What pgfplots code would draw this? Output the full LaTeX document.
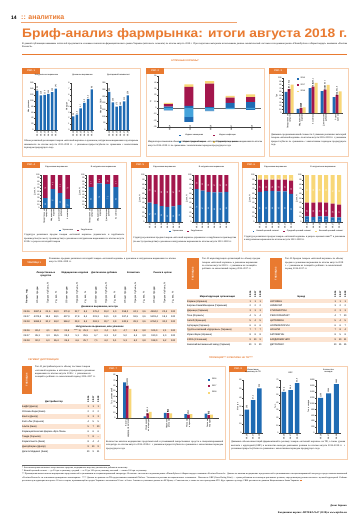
\documentclass[border=0pt]{standalone}
\PassOptionsToPackage{table}{xcolor}
\usepackage{fontspec}
\setmainfont{Liberation Serif}
\setsansfont{Liberation Sans}
\usepackage{graphicx}
\usepackage{array}
\usepackage{pgfplots}
\usepackage{pgfplotstable}
\pgfplotsset{compat=1.18}
\definecolor{orng}{HTML}{E97A30}
\definecolor{lorng}{HTML}{F7CFB0}
\definecolor{shade}{HTML}{FCE4D2}
\definecolor{cblue}{HTML}{1F6BB3}
\definecolor{ccrim}{HTML}{A3164C}
\definecolor{cyel}{HTML}{F8D777}
\definecolor{cteal}{HTML}{45A3DB}
\newcommand\tx{\fontsize{2.4}{3.1}\selectfont}
\newcommand\tk{\sffamily\fontsize{2}{2.3}\selectfont}
\newcommand\tb{\sffamily\bfseries\fontsize{2.4}{2.8}\selectfont}
\newcommand\panel[5]{%
 \draw[lorng, line width=0.7pt] (#1,#2) rectangle (#3,#4);
 \node[fill=orng, text=white, font=\tb, anchor=north west, inner sep=0pt, minimum width=18pt, minimum height=5.5pt] at (#1,#2) {#5};}
\pgfplotsset{
  mini/.style={scale only axis, anchor=south west, axis lines*=left,
    axis line style={black!75, line width=0.2pt},
    every tick/.style={black!75, line width=0.2pt},
    major tick length=0.8pt, tick align=outside,
    ticklabel style={font=\tk, inner sep=0.4pt},
    label style={font=\tk, inner sep=0pt},
    title style={font=\tk, inner sep=0.6pt, align=center},
    /pgf/number format/assume math mode=true,
    /pgf/number format/use comma,
    /pgf/number format/1000 sep={},
    ymin=0, clip=false,
    x tick label style={rotate=90, anchor=east, align=right},
    legend style={draw=none, fill=none, font=\tk, inner sep=0.3pt, row sep=-0.5pt,
      /tikz/every even column/.append style={column sep=2pt}},
  },
  nlab/.style={nodes near coords, every node near coord/.style={rotate=90, anchor=west, font=\tk, inner sep=0.4pt}},
  wlab/.style={nodes near coords, point meta=explicit, every node near coord/.style={rotate=90, anchor=east, font=\tk, text=white, inner sep=0.5pt}},
  sq/.style={legend image code/.code={\fill[##1] (0pt,-0.9pt) rectangle (1.8pt,0.9pt);}},
}
\pgfplotstableread{
x ua fo
0 30 70
1 57 43
2 45 55
3 27 73
}\figfourA
\pgfplotstableread{
x ua fo
0 63 37
1 75 25
2 72 28
3 63 37
}\figfourB
\pgfplotstableread{
x ua fo
0 41 59
1 38 62
2 34 66
3 32 68
4 33 67
5 36 64
}\figfiveA
\pgfplotstableread{
x ua fo
0 70 30
1 67 33
2 64 36
3 63 37
4 63 37
5 64 36
}\figfiveB
\pgfplotstableread{
x lo mid hi
0 64 26 10
1 66 24 10
2 66 24 10
3 65 25 10
4 65 25 10
5 60 28 12
}\figsixA
\pgfplotstableread{
x lo mid hi
0 12 29 59
1 11 30 59
2 12 30 58
3 12 29 59
4 10 29 61
5 10 27 63
}\figsixB
\pgfplotstableread{
x a b c
0 60.2 68.4 81.3
1 12.1 13.6 15.9
2 70.8 75.2 86.1
3 62.3 66.9 80.7
4 45.1 51.6 61.8
}\figthree
\pgfplotstableread{
x a b c
0 66.1 60.4 54.2
1 3.2 8.7 11.3
2 9.4 9.1 8.8
3 7.2 6.1 7.0
4 8.0 5.3 6.2
}\figseven
\begin{document}
\begin{tikzpicture}[x=1pt,y=-1pt]
\path[use as bounding box, fill=white] (0,0) rectangle (360,530);
% header
\node[anchor=west, font=\sffamily\bfseries\fontsize{5}{6}\selectfont, inner sep=0pt] at (11,17.5) {14};
\node[anchor=west, font=\sffamily\bfseries\fontsize{7}{8}\selectfont, text=orng, inner sep=0pt] at (21,17.2) {:: аналитика};
\draw[orng!70, line width=0.4pt] (21,22.5) -- (237,22.5);
\node[anchor=north west, inner sep=0pt, text=orng] at (22,28.5) {\resizebox*{325pt}{11.5pt}{\sffamily\bfseries Бриф-анализ фармрынка: итоги августа 2018 г.}};
\node[anchor=north west, inner sep=0pt, font=\tx, text width=325pt, align=justify] at (22,42.5) {В данной публикации вниманию читателей предлагаются основные показатели фармацевтического рынка Украины (аптечного сегмента) по итогам августа 2018 г. При подготовке материала использованы данные аналитической системы исследования рынка «PharmXplorer»/«Фармстандарт» компании «Proxima Research».};
\draw[orng, line width=0.4pt] (22,54) -- (347,54);
\node[font=\tb, text=orng] at (185,60.5) {АПТЕЧНЫЕ КОРЗИНЫ*};
% ===== Fig 1
\panel{22}{68}{140}{156}{РИС. 1}
\begin{axis}[mini, at={(35pt,-130pt)}, width=23pt, height=47pt, ymax=160, ytick={0,20,...,160}, xmin=-0.6, xmax=5.6, xtick={0,...,5}, xticklabels={08.13,08.14,08.15,08.16,08.17,08.18}, title={Натуральное выражение}, ylabel={Млн упаковок}, ybar, bar width=2.4pt, nlab]
\addplot[fill=cblue, draw=none] coordinates {(0,134) (1,118) (2,120) (3,123) (4,129) (5,141)};
\end{axis}
\begin{axis}[mini, at={(71pt,-130pt)}, width=23pt, height=47pt, ymax=8, ytick={0,1,...,8}, xmin=-0.6, xmax=5.6, xtick={0,...,5}, xticklabels={08.13,08.14,08.15,08.16,08.17,08.18}, title={Денежное выражение}, ylabel={Млрд грн}, ybar, bar width=2.4pt, nlab]
\addplot[fill=cblue, draw=none] coordinates {(0,2.3) (1,2.6) (2,3.7) (3,4.6) (4,5.3) (5,6.9)};
\end{axis}
\begin{axis}[mini, at={(107pt,-130pt)}, width=23pt, height=47pt, ymax=350, ytick={0,50,...,350}, xmin=-0.6, xmax=5.6, xtick={0,...,5}, xticklabels={08.13,08.14,08.15,08.16,08.17,08.18}, title={Долларовый эквивалент}, ylabel={Млн долл. США}, ybar, bar width=2.4pt, nlab]
\addplot[fill=cblue, draw=none] coordinates {(0,283) (1,205) (2,175) (3,180) (4,213) (5,258)};
\end{axis}
\node[anchor=north west, inner sep=0pt, font=\tx, text width=114pt, align=justify] at (24,140) {Объем розничной реализации товаров «аптечной корзины» в денежном, натуральном выражении и долларовом эквиваленте по итогам августа 2013–2018 гг. с указанием прироста/убыли по сравнению с аналогичным периодом предыдущего года};
% ===== Fig 2
\panel{146}{68}{264}{156}{РИС. 2}
\begin{axis}[mini, at={(158pt,-127pt)}, width=103pt, height=51pt, ymin=-30, ymax=50, ytick={-30,-20,...,50}, xmin=-0.5, xmax=4.5, xtick={0,...,4}, xticklabels={08.14,08.15,08.16,08.17,08.18}, x tick label style={rotate=0, anchor=north}, ylabel={\%}, ybar stacked, bar width=9pt, extra y ticks={0}, extra y tick labels={}, extra y tick style={grid=major, grid style={black!60, line width=0.2pt}}, legend columns=2, legend style={at={(0.5,-0.09)}, anchor=north, /tikz/every even column/.append style={column sep=6pt}}]
\addplot[sq, fill=cblue, draw=none] coordinates {(0,2) (1,3) (2,1) (3,8) (4,9)};
\addlegendentry{Индекс замещения}
\addplot[sq, fill=ccrim, draw=none] coordinates {(0,4) (1,30) (2,37) (3,8) (4,8)};
\addlegendentry{Индекс инфляции}
\addlegendimage{sq, fill=cteal, draw=none}
\addlegendentry{Индекс товарной массы}
\addplot[sq, fill=cyel, draw=none] coordinates {(0,2) (1,4) (2,4) (3,3) (4,4)};
\addlegendentry{Прирост/убыль рынка}
\end{axis}
\begin{axis}[mini, hide axis, at={(158pt,-127pt)}, width=103pt, height=51pt, ymin=-30, ymax=50, xmin=-0.5, xmax=4.5, ybar stacked, bar width=9pt]
\addplot[fill=cteal, draw=none] coordinates {(0,-3) (1,-14) (2,-4) (3,-2) (4,-2)};
\addplot[fill=cblue, draw=none] coordinates {(0,-1) (1,-8) (2,-1) (3,0) (4,-1)};
\end{axis}
\node[anchor=north west, inner sep=0pt, font=\tx, text width=114pt, align=justify] at (148,141) {Индикаторы изменения объема аптечных продаж товаров «аптечной корзины» в денежном выражении по итогам августа 2014–2018 гг. по сравнению с аналогичным периодом предыдущего года};
% ===== Fig 3
\panel{269}{68}{348}{156}{РИС. 3}
\begin{axis}[mini, at={(283pt,-113pt)}, width=60pt, height=35pt, ymax=100, ytick={0,10,...,100}, xmin=-0.5, xmax=4.5, xtick={0,...,4}, xticklabels={Лекарственные\\средства, Медицинские\\изделия, Косметика, Диетические\\добавки, Рынок\\в целом}, ylabel={Грн}, ybar=0pt, bar width=3pt, nlab, legend style={at={(0.22,1.09)}, anchor=north west}]
\addplot[sq, fill=cblue, draw=none] table[x=x, y=a] {\figthree};
\addlegendentry{2016}
\addplot[sq, fill=ccrim, draw=none] table[x=x, y=b] {\figthree};
\addlegendentry{2017}
\addplot[sq, fill=cyel, draw=none] table[x=x, y=c] {\figthree};
\addlegendentry{2018}
\end{axis}
\node[anchor=north west, inner sep=0pt, font=\tx, text width=75pt, align=justify] at (271,134) {Динамика средневзвешенной стоимости 1 упаковки различных категорий товаров «аптечной корзины» по итогам августа 2016–2018 гг. с указанием прироста/убыли по сравнению с аналогичным периодом предыдущего года};
% ===== Fig 4
\panel{22}{162}{126}{251}{РИС. 4}
\begin{axis}[mini, at={(41pt,-208pt)}, width=31pt, height=33pt, ymax=100, ytick={0,10,...,100}, xmin=-0.6, xmax=3.6, xtick={0,...,3}, xticklabels={Лекарственные\\средства, Медицинские\\изделия, Диетические\\добавки, Косметика}, title={В денежном выражении}, ylabel={Доля, \%}, ybar stacked, bar width=4.5pt, wlab, legend columns=2, legend style={at={(1.15,-0.68)}, anchor=center}]
\addplot[sq, fill=cblue, draw=none] table[x=x, y=ua, meta=ua] {\figfourA};
\addlegendentry{Украинские}
\addplot[sq, fill=ccrim, draw=none] table[x=x, y=fo, meta=fo] {\figfourA};
\addlegendentry{Зарубежные}
\end{axis}
\begin{axis}[mini, at={(86pt,-208pt)}, width=35pt, height=33pt, ymax=100, ytick={0,10,...,100}, xmin=-0.6, xmax=3.6, xtick={0,...,3}, xticklabels={Лекарственные\\средства, Медицинские\\изделия, Диетические\\добавки, Косметика}, title={В натуральном выражении}, ylabel={Доля, \%}, ybar stacked, bar width=5pt, wlab]
\addplot[fill=cblue, draw=none] table[x=x, y=ua, meta=ua] {\figfourB};
\addplot[fill=ccrim, draw=none] table[x=x, y=fo, meta=fo] {\figfourB};
\end{axis}
\node[anchor=north west, inner sep=0pt, font=\tx, text width=100pt, align=justify] at (24,234) {Структура розничных продаж товаров «аптечной корзины» украинского и зарубежного производства (по месту производства) в денежном и натуральном выражении по итогам августа 2018 г. в разрезе категорий товаров};
% ===== Fig 5
\panel{131}{162}{238}{251}{РИС. 5}
\begin{axis}[mini, at={(146pt,-222pt)}, width=37pt, height=47pt, ymax=100, ytick={0,10,...,100}, xmin=-0.6, xmax=5.6, xtick={0,...,5}, xticklabels={08.13,08.14,08.15,08.16,08.17,08.18}, title={В денежном выражении}, ylabel={Доля, \%}, ybar stacked, bar width=4pt, wlab, legend columns=2, legend style={at={(1.1,-0.2)}, anchor=center}]
\addplot[sq, fill=cblue, draw=none] table[x=x, y=ua, meta=ua] {\figfiveA};
\addlegendentry{Украинские}
\addplot[sq, fill=ccrim, draw=none] table[x=x, y=fo, meta=fo] {\figfiveA};
\addlegendentry{Зарубежные}
\end{axis}
\begin{axis}[mini, at={(193pt,-222pt)}, width=37pt, height=47pt, ymax=100, ytick={0,10,...,100}, xmin=-0.6, xmax=5.6, xtick={0,...,5}, xticklabels={08.13,08.14,08.15,08.16,08.17,08.18}, title={В натуральном выражении}, ylabel={Доля, \%}, ybar stacked, bar width=4pt, wlab]
\addplot[fill=cblue, draw=none] table[x=x, y=ua, meta=ua] {\figfiveB};
\addplot[fill=ccrim, draw=none] table[x=x, y=fo, meta=fo] {\figfiveB};
\end{axis}
\node[anchor=north west, inner sep=0pt, font=\tx, text width=103pt, align=justify] at (133,237) {Структура розничных продаж товаров «аптечной корзины» украинского и зарубежного производства (по месту производства) в денежном и натуральном выражении по итогам августа 2013–2018 гг.};
% ===== Fig 6
\panel{242}{162}{347}{251}{РИС. 6}
\begin{axis}[mini, at={(256pt,-222pt)}, width=39pt, height=47pt, ymax=100, ytick={0,10,...,100}, xmin=-0.6, xmax=5.6, xtick={0,...,5}, xticklabels={08.13,08.14,08.15,08.16,08.17,08.18}, title={В денежном выражении}, ylabel={Доля, \%}, ybar stacked, bar width=4pt, wlab, legend columns=3, legend style={at={(1.1,-0.2)}, anchor=center}]
\addplot[sq, fill=cblue, draw=none] table[x=x, y=lo, meta=lo] {\figsixA};
\addlegendentry{Низкий ценовой сегмент}
\addplot[sq, fill=ccrim, draw=none] table[x=x, y=mid, meta=mid] {\figsixA};
\addlegendentry{Средний ценовой сегмент}
\addplot[sq, fill=cyel, draw=none] table[x=x, y=hi, meta=hi] {\figsixA};
\addlegendentry{Высокий ценовой сегмент}
\end{axis}
\begin{axis}[mini, at={(303pt,-222pt)}, width=40pt, height=47pt, ymax=100, ytick={0,10,...,100}, xmin=-0.6, xmax=5.6, xtick={0,...,5}, xticklabels={08.13,08.14,08.15,08.16,08.17,08.18}, title={В натуральном выражении}, ylabel={Доля, \%}, ybar stacked, bar width=4pt, wlab]
\addplot[fill=cblue, draw=none] table[x=x, y=lo, meta=lo] {\figsixB};
\addplot[fill=ccrim, draw=none] table[x=x, y=mid, meta=mid] {\figsixB};
\addplot[fill=cyel, draw=none] table[x=x, y=hi, meta=hi] {\figsixB};
\end{axis}
\node[anchor=north west, inner sep=0pt, font=\tx, text width=101pt, align=justify] at (244,236) {Структура розничных продаж товаров «аптечной корзины» в разрезе ценовых ниш** в денежном и натуральном выражении по итогам августа 2013–2018 гг.};
% ===== Table 1
\node[fill=orng, text=white, font=\tb, anchor=north west, inner sep=0pt, minimum width=24pt, minimum height=7pt] at (22,259) {ТАБЛИЦА 1};
\node[anchor=north west, inner sep=0pt, font=\tx, text width=128pt] at (49,258) {Розничные продажи различных категорий товаров «аптечной корзины» в денежном и натуральном выражении по итогам августа 2016–2018 гг.};
\node[anchor=north west, inner sep=0pt, font=\tx] at (22,270) {\sffamily\setlength{\tabcolsep}{0.2pt}\renewcommand{\arraystretch}{1.55}%
\begin{tabular}{@{}>{\centering\arraybackslash}p{9pt}*{5}{>{\centering\arraybackslash}p{12pt}>{\centering\arraybackslash}p{8pt}>{\centering\arraybackslash}p{8pt}}@{}}
 & \multicolumn{3}{>{\centering\arraybackslash}p{28.4pt}}{\bfseries Лекарственные средства} & \multicolumn{3}{>{\centering\arraybackslash}p{28.4pt}}{\bfseries Медицинские изделия} & \multicolumn{3}{>{\centering\arraybackslash}p{28.4pt}}{\bfseries Диетические добавки} & \multicolumn{3}{>{\centering\arraybackslash}p{28.4pt}}{\bfseries Косметика} & \multicolumn{3}{>{\centering\arraybackslash}p{28.4pt}}{\bfseries Рынок в целом}\\
\rotatebox{90}{\bfseries Август, год} &
\rotatebox{90}{\parbox{25pt}{\raggedright Объем продаж}} & \rotatebox{90}{\parbox{25pt}{\raggedright Прирост/ убыль, \%}} & \rotatebox{90}{\parbox{25pt}{\raggedright Уд. вес, \%}} &
\rotatebox{90}{\parbox{25pt}{\raggedright Объем продаж}} & \rotatebox{90}{\parbox{25pt}{\raggedright Прирост/ убыль, \%}} & \rotatebox{90}{\parbox{25pt}{\raggedright Уд. вес, \%}} &
\rotatebox{90}{\parbox{25pt}{\raggedright Объем продаж}} & \rotatebox{90}{\parbox{25pt}{\raggedright Прирост/ убыль, \%}} & \rotatebox{90}{\parbox{25pt}{\raggedright Уд. вес, \%}} &
\rotatebox{90}{\parbox{25pt}{\raggedright Объем продаж}} & \rotatebox{90}{\parbox{25pt}{\raggedright Прирост/ убыль, \%}} & \rotatebox{90}{\parbox{25pt}{\raggedright Уд. вес, \%}} &
\rotatebox{90}{\parbox{25pt}{\raggedright Объем продаж}} & \rotatebox{90}{\parbox{25pt}{\raggedright Прирост/ убыль, \%}} & \rotatebox{90}{\parbox{25pt}{\raggedright Уд. вес, \%}}\\
\multicolumn{16}{c}{\bfseries Денежное выражение, млн грн}\\
\rowcolor{shade} 08.16 & 3697,6 & 21,6 & 84,0 & 371,8 & 32,7 & 8,4 & 176,4 & 19,2 & 4,0 & 158,2 & 24,1 & 3,6 & 4404,0 & 22,4 & 100\\
08.17 & 4374,8 & 18,3 & 84,1 & 437,9 & 17,8 & 8,4 & 201,3 & 14,1 & 3,9 & 187,4 & 18,5 & 3,6 & 5201,4 & 18,1 & 100\\
\rowcolor{shade} 08.18 & 5694,3 & 30,2 & 84,2 & 566,2 & 29,3 & 8,4 & 263,1 & 30,7 & 3,9 & 240,5 & 28,3 & 3,6 & 6764,1 & 30,0 & 100\\
\multicolumn{16}{c}{\bfseries Натуральное выражение, млн упаковок}\\
\rowcolor{shade} 08.16 & 82,4 & 4,1 & 65,9 & 31,6 & $-$1,8 & 25,3 & 6,3 & 2,4 & 5,0 & 4,7 & 8,6 & 3,8 & 125,0 & 2,1 & 100\\
08.17 & 85,1 & 3,3 & 65,5 & 33,2 & 5,1 & 25,5 & 6,7 & 6,3 & 5,2 & 5,0 & 6,4 & 3,8 & 130,0 & 4,0 & 100\\
\rowcolor{shade} 08.18 & 90,2 & 6,0 & 65,4 & 35,4 & 6,6 & 25,7 & 7,1 & 6,0 & 5,1 & 5,3 & 6,0 & 3,8 & 138,0 & 6,2 & 100\\
\end{tabular}};
% ===== Table 2
\node[fill=orng, text=white, font=\tb, rotate=90, inner sep=0pt, minimum width=31pt, minimum height=12pt] at (193,273.5) {ТАБЛИЦА 2};
\node[anchor=north west, inner sep=0pt, font=\tx, text width=60pt] at (202,258) {Топ-10 маркетирующих организаций по объему продаж товаров «аптечной корзины» в денежном выражении по итогам августа 2018 г. с указанием их позиций в рейтинге за аналогичный период 2016–2017 гг.};
\node[anchor=north west, inner sep=0pt, font=\tx] at (187,291) {\sffamily\setlength{\tabcolsep}{0.5pt}\renewcommand{\arraystretch}{1.55}%
\begin{tabular}{@{}p{60pt}*{3}{>{\centering\arraybackslash}p{4pt}}@{}}
\multicolumn{1}{c}{\bfseries Маркетирующая организация} & \rotatebox{90}{\bfseries 08.16} & \rotatebox{90}{\bfseries 08.17} & \rotatebox{90}{\bfseries 08.18}\\
\rowcolor{shade} Фармак (Украина) & 1 & 1 & 1\\
Берлин-Хеми/Менарини (Германия) & 2 & 2 & 2\\
\rowcolor{shade} Дарница (Украина) & 3 & 3 & 3\\
Teva (Израиль) & 4 & 5 & 4\\
\rowcolor{shade} Sanofi (Франция) & 5 & 4 & 5\\
Артериум (Украина) & 6 & 6 & 6\\
\rowcolor{shade} Группа компаний «Здоровье» (Украина) & 7 & 7 & 7\\
Юрия-Фарм (Украина) & 8 & 8 & 8\\
\rowcolor{shade} KRKA (Словения) & 9 & 10 & 9\\
Киевский витаминный завод (Украина) & 10 & 9 & 10\\
\end{tabular}};
% ===== Table 3
\node[fill=orng, text=white, font=\tb, rotate=90, inner sep=0pt, minimum width=31pt, minimum height=12pt] at (276,273.5) {ТАБЛИЦА 3};
\node[anchor=north west, inner sep=0pt, font=\tx, text width=62pt] at (285,258) {Топ-10 брендов товаров «аптечной корзины» по объему продаж в денежном выражении по итогам августа 2018 г. с указанием их позиций в рейтинге за аналогичный период 2016–2017 гг.};
\node[anchor=north west, inner sep=0pt, font=\tx] at (270,291) {\sffamily\setlength{\tabcolsep}{0.5pt}\renewcommand{\arraystretch}{1.55}%
\begin{tabular}{@{}p{62pt}*{3}{>{\centering\arraybackslash}p{4pt}}@{}}
\multicolumn{1}{c}{\bfseries Бренд} & \rotatebox{90}{\bfseries 08.16} & \rotatebox{90}{\bfseries 08.17} & \rotatebox{90}{\bfseries 08.18}\\
\rowcolor{shade} НУРОФЕН & 1 & 1 & 1\\
НИМЕСИЛ & 3 & 2 & 2\\
\rowcolor{shade} СПАЗМАЛГОН & 2 & 3 & 3\\
РЕОСОРБИЛАКТ & 4 & 7 & 10\\
\rowcolor{shade} ЦИТРАМОН & 5 & 4 & 5\\
НОРМОФЛОРИН & 6 & 6 & 7\\
\rowcolor{shade} НО-ШПА & 7 & 8 & 4\\
АКТОВЕГИН & 8 & 5 & 8\\
\rowcolor{shade} КАРДИОМАГНИЛ & 9 & 10 & 11\\
ДЕТРАЛЕКС & 10 & 15 & 15\\
\end{tabular}};
% ===== section headings
\node[anchor=west, font=\tb, text=orng, inner sep=0pt] at (28,359.5) {СЕГМЕНТ ДИСТРИБУЦИИ};
\node[font=\tb, text=orng, inner sep=0pt] at (231,358) {ПРОМОЦИЯ*** И РЕКЛАМА НА ТВ****};
% ===== Table 4
\node[fill=orng, text=white, font=\tb, rotate=90, inner sep=0pt, minimum width=28pt, minimum height=10pt] at (27,379.5) {ТАБЛИЦА 4};
\node[anchor=north west, inner sep=0pt, font=\tx, text width=65pt] at (35,366) {Топ-10 дистрибьюторов по объему поставок товаров «аптечной корзины» в аптечные учреждения в денежном выражении по итогам августа 2018 г. с указанием их позиций в рейтинге за аналогичный период 2016–2017 гг.};
\node[anchor=north west, inner sep=0pt, font=\tx] at (22,396) {\sffamily\setlength{\tabcolsep}{0.5pt}\renewcommand{\arraystretch}{1.62}%
\begin{tabular}{@{}p{63pt}*{3}{>{\centering\arraybackslash}p{4pt}}@{}}
\multicolumn{1}{c}{\bfseries Дистрибьютор} & \rotatebox{90}{\bfseries 08.16} & \rotatebox{90}{\bfseries 08.17} & \rotatebox{90}{\bfseries 08.18}\\
\rowcolor{shade} БаДМ (Днепр) & 1 & 1 & 1\\
Оптима-Фарм (Киев) & 2 & 2 & 2\\
\rowcolor{shade} Вента (Днепр) & 3 & 3 & 3\\
Фито-Лек (Харьков) & 4 & 5 & 5\\
\rowcolor{shade} Альба (Киев) & 5 & 7 & 10\\
Фармацевтическая фирма «Фра Пана» & 6 & 6 & 6\\
\rowcolor{shade} Тамда (Харьков) & 7 & 8 & --\\
Фармпланета (Киев) & 8 & 4 & 4\\
\rowcolor{shade} ДнепрФарма (Днепр) & 9 & 10 & 9\\
Дельта Медикел (Киев) & 10 & 9 & 11\\
\end{tabular}};
% ===== Fig 7
\panel{104}{366}{225}{459}{РИС. 7}
\begin{axis}[mini, at={(117pt,-418pt)}, width=102pt, height=43pt, ymax=80, ytick={0,10,...,80}, xmin=-0.5, xmax=4.5, xtick={0,...,4}, xticklabels={Визиты\\медпредставителей, Упоминания\\в литературе, Наружная\\реклама, Реклама\\в прессе, Реклама\\на радио}, ylabel={Тыс. упоминаний}, ybar=0pt, bar width=2.7pt, nlab, legend style={at={(1.0,0.98)}, anchor=north east}]
\addplot[sq, fill=cblue, draw=none] table[x=x, y=a] {\figseven};
\addlegendentry{2016}
\addplot[sq, fill=ccrim, draw=none] table[x=x, y=b] {\figseven};
\addlegendentry{2017}
\addplot[sq, fill=cyel, draw=none] table[x=x, y=c] {\figseven};
\addlegendentry{2018}
\end{axis}
\node[anchor=north west, inner sep=0pt, font=\tx, text width=117pt, align=justify] at (106,441) {Количество визитов медицинских представителей и упоминаний лекарственных средств в специализированной литературе по итогам августа 2016–2018 гг. с указанием прироста/убыли по сравнению с аналогичным периодом предыдущего года};
% ===== Fig 8
\panel{229}{366}{347}{459}{РИС. 8}
\begin{axis}[mini, at={(243pt,-433pt)}, width=20pt, height=53pt, ymax=60, ytick={0,10,...,60}, xmin=-0.6, xmax=2.6, xtick={0,1,2}, xticklabels={08.16,08.17,08.18}, title={Инвестиции\\в рекламу на ТВ}, ylabel={Млн грн}, ybar, bar width=4.5pt, nlab]
\addplot[fill=cblue, draw=none] coordinates {(0,26.6) (1,37.2) (2,50.5)};
\end{axis}
\begin{axis}[mini, at={(280pt,-433pt)}, width=21pt, height=53pt, ymax=70, ytick={0,10,...,70}, xmin=-0.6, xmax=2.6, xtick={0,1,2}, xticklabels={08.16,08.17,08.18}, title={GRP}, ylabel={Тыс.}, ybar, bar width=4.5pt, nlab]
\addplot[fill=cblue, draw=none] coordinates {(0,54.4) (1,56.6) (2,65.9)};
\end{axis}
\begin{axis}[mini, at={(316pt,-433pt)}, width=25pt, height=53pt, ymax=1800, ytick={0,200,...,1800}, xmin=-0.6, xmax=2.6, xtick={0,1,2}, xticklabels={08.16,08.17,08.18}, title={Количество\\выходов}, ylabel={Тыс. выходов}, ybar, bar width=5pt, nlab]
\addplot[fill=cblue, draw=none] coordinates {(0,1196) (1,1344) (2,1663)};
\end{axis}
\node[anchor=north west, inner sep=0pt, font=\tx, text width=114pt, align=justify] at (231,441) {Динамика объема инвестиций фармкомпаний в рекламу товаров «аптечной корзины» на ТВ, а также уровня контакта с аудиторией (GRP) и количества выходов рекламных роликов по итогам августа 2016–2018 гг. с указанием прироста/убыли по сравнению с аналогичным периодом предыдущего года};
% ===== footnotes
\draw[black!60, line width=0.2pt] (22,465.5) -- (110,465.5);
\node[anchor=north west, inner sep=0pt, font=\fontsize{2.2}{3.1}\selectfont, text width=325pt, align=justify] at (22,467) {* Аптечная корзина включает лекарственные средства, медицинские изделия, диетические добавки и косметику.\\
** Низкий ценовой сегмент — до 50 грн за упаковку; средний — от 50 до 100 грн за упаковку; высокий — свыше 100 грн за упаковку.\\
*** Промоция включает визиты медицинских представителей и упоминания в специализированной литературе. Источник: система исследования рынка «PharmXplorer»/«Фармстандарт» компании «Proxima Research». Данные по визитам медицинских представителей и упоминаниям в специализированной литературе предоставлены компанией «Proxima Research» на основании проведенного мониторинга. **** Данные по рекламе на ТВ предоставлены компанией Nielsen. Учитывается реклама на национальных телеканалах. Показатель GRP (Gross Rating Point) — сумма рейтингов всех выходов рекламных роликов, определяющая уровень контакта с целевой аудиторией. Рейтинг рассчитан для аудитории в возрасте 18 лет и старше, проживающей в городах Украины с населением 50 тыс. и более. Анализ не учитывает данные по АР Крым, г. Севастополю, а также по зоне проведения АТО. Курс гривны к доллару США рассчитан по данным Национального банка Украины. \textcolor{orng}{\rule{1.6pt}{1.6pt}}};
\node[anchor=east, inner sep=0pt, font=\fontsize{2.6}{3}\selectfont\bfseries\itshape] at (347,505.5) {Денис Бармин};
\node[anchor=east, inner sep=0pt, font=\fontsize{2.6}{3}\selectfont\bfseries] at (347,513) {Ежедневная версия: АПТЕКА №17 (1138) и www.apteka.ua};
\end{tikzpicture}
\end{document}
